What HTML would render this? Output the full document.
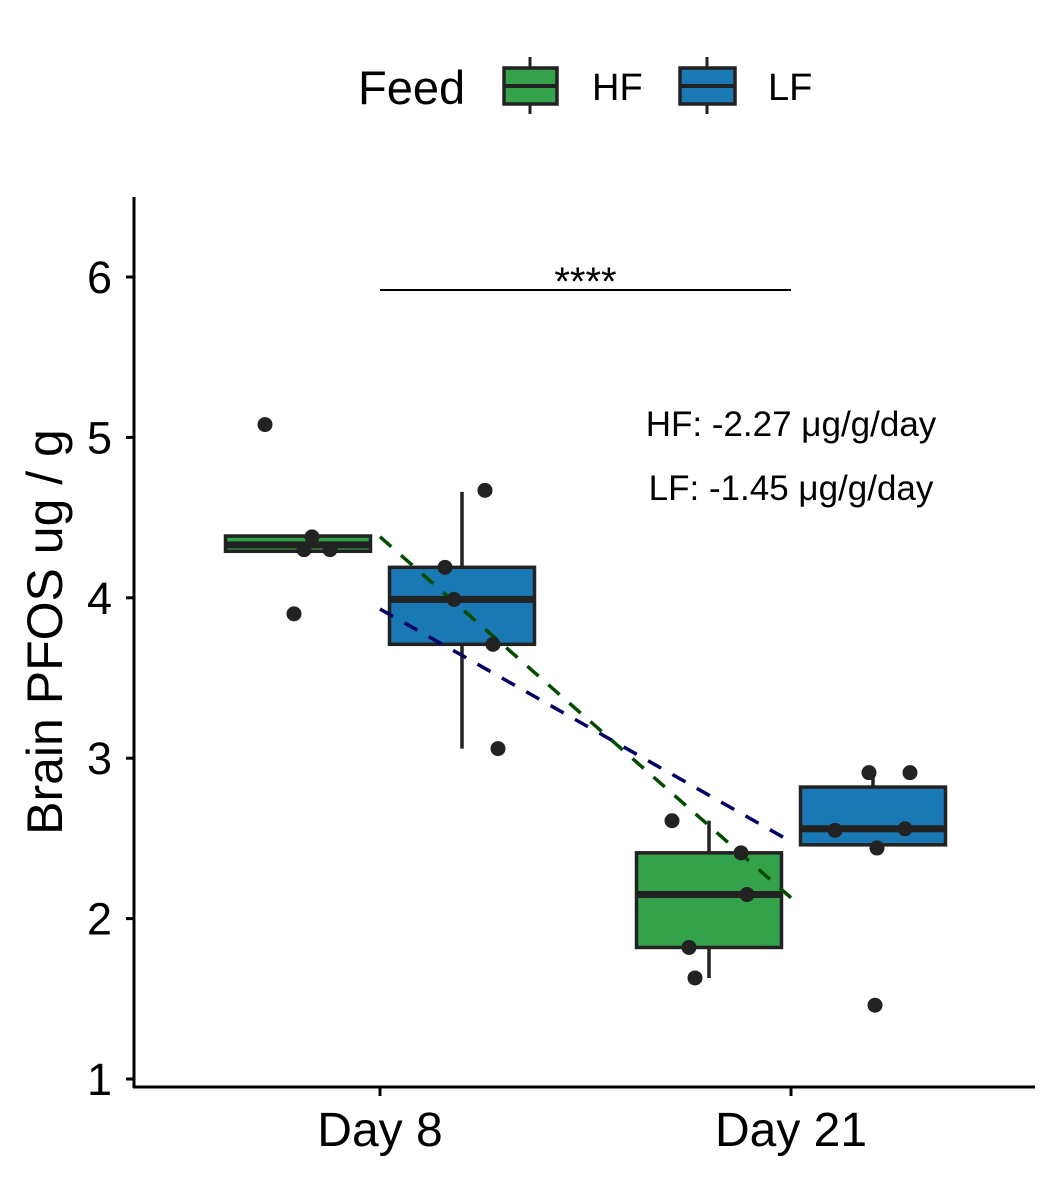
<!DOCTYPE html>
<html><head><meta charset="utf-8"><style>
body{margin:0;background:#fff}
svg{display:block;font-family:"Liberation Sans",Arial,sans-serif}
</style></head><body>
<svg id="chart" width="1062" height="1181" xmlns="http://www.w3.org/2000/svg">
<g id="legend">
<text x="358" y="104" font-size="47" fill="#000">Feed</text>
<g>
<line x1="530" y1="57" x2="530" y2="114" stroke="#222" stroke-width="3"/>
<rect x="504" y="68" width="53" height="36" fill="#33a24a" stroke="#222" stroke-width="3.5"/>
<line x1="504" y1="86" x2="557" y2="86" stroke="#222" stroke-width="4"/>
<text x="592" y="100" font-size="38" fill="#000">HF</text></g>
<g>
<line x1="707" y1="57" x2="707" y2="114" stroke="#222" stroke-width="3"/>
<rect x="680" y="68" width="55" height="36" fill="#1a78b4" stroke="#222" stroke-width="3.5"/>
<line x1="680" y1="86" x2="735" y2="86" stroke="#222" stroke-width="4"/>
<text x="768" y="100" font-size="38" fill="#000">LF</text></g>
</g>
<g id="plot"></g>
</svg>
<script>
const groups=["Day 8","Day 21"];
const feeds=["HF","LF"];
const yTicks=[1,2,3,4,5,6];
// [min,q1,median,q3,max] per group per feed
const hfBox=[[4.29,4.29,4.33,4.385,4.385],[1.63,1.82,2.15,2.41,2.61]];
const lfBox=[[3.06,3.71,3.99,4.19,4.66],[2.46,2.46,2.56,2.82,2.91]];
const hfPoints=[[5.08,4.38,4.30,4.30,3.90],[2.61,2.41,2.15,1.82,1.63]];
const lfPoints=[[4.67,4.19,3.99,3.71,3.06],[2.91,2.91,2.55,2.56,2.44,1.46]];
const hfJitter=[[-33,14,6,32,-4],[-37,32,38,-20,-14]];
const lfJitter=[[23,-17,-8,31,36],[-4,37,-38,32,4,2]];
const hfTrend=[4.38,2.13];
const lfTrend=[3.93,2.48];
const ns="http://www.w3.org/2000/svg";
const g=document.getElementById('plot');
const y=v=>1079-(v-1)*160.4;
const x=i=>380+i*411;
const off={HF:-82,LF:82};
const bw=145;
function mk(t,a,p){const e=document.createElementNS(ns,t);for(const k in a)e.setAttribute(k,a[k]);(p||g).appendChild(e);return e;}
let e=mk('line',{x1:134,y1:197,x2:134,y2:1088,stroke:'#000','stroke-width':3});


e=mk('line',{x1:133,y1:1087,x2:1035,y2:1087,stroke:'#000','stroke-width':3});


yTicks.forEach(t=>{
 e=mk('line',{x1:126,y1:y(t),x2:134,y2:y(t),stroke:'#000','stroke-width':3});
 
 
 e=mk('text',{x:112,y:y(t)+16,'font-size':45,'text-anchor':'end',fill:'#000'});e.textContent=t;
 
 
});
groups.forEach((gname,i)=>{
 e=mk('line',{x1:x(i),y1:1087,x2:x(i),y2:1096,stroke:'#000','stroke-width':3});
 
 
 e=mk('text',{x:x(i),y:1146,'font-size':48,'text-anchor':'middle',fill:'#000'});e.textContent=gname;
 
 
});
e=mk('text',{x:0,y:0,'font-size':50,'text-anchor':'middle',fill:'#000',transform:'translate(62,632) rotate(-90)'});e.textContent='Brain PFOS ug / g';


function box(b,i,f,col){
 const cx=x(i)+off[f];
 const gg=mk('g',{});
 
 
 mk('line',{x1:cx,y1:y(b[4]),x2:cx,y2:y(b[0]),stroke:'#222','stroke-width':3.5},gg);
 mk('rect',{x:cx-bw/2,y:y(b[3]),width:bw,height:y(b[1])-y(b[3]),fill:col,stroke:'#222','stroke-width':3.5},gg);
 mk('line',{x1:cx-bw/2,y1:y(b[2]),x2:cx+bw/2,y2:y(b[2]),stroke:'#222','stroke-width':7},gg);
}
for(let i=0;i<2;i++){box(hfBox[i],i,'HF','#33a24a');box(lfBox[i],i,'LF','#1a78b4');}
function trend(t,col,name){
 e=mk('line',{x1:x(0),y1:y(t[0]),x2:x(1),y2:y(t[1]),stroke:col,'stroke-width':3.5,'stroke-dasharray':'15 13'});
 
 
}
trend(lfTrend,'#000066','trend-line-lf');
trend(hfTrend,'#004d00','trend-line-hf');
function pts(P,J,f){
 for(let i=0;i<2;i++)P[i].forEach((v,k)=>{
  e=mk('circle',{cx:x(i)+off[f]+J[i][k],cy:y(v),r:7.5,fill:'#222'});
  
  
 });
}
pts(hfPoints,hfJitter,'HF');pts(lfPoints,lfJitter,'LF');
e=mk('line',{x1:x(0),y1:290,x2:x(1),y2:290,stroke:'#000','stroke-width':2});


e=mk('text',{x:(x(0)+x(1))/2,y:295,'font-size':40,'text-anchor':'middle',fill:'#000'});e.textContent='****';


e=mk('text',{x:791,y:436,'font-size':35,'text-anchor':'middle',fill:'#000'});e.textContent='HF: -2.27 μg/g/day';


e=mk('text',{x:791,y:500,'font-size':35,'text-anchor':'middle',fill:'#000'});e.textContent='LF: -1.45 μg/g/day';


</script>
</body></html>
